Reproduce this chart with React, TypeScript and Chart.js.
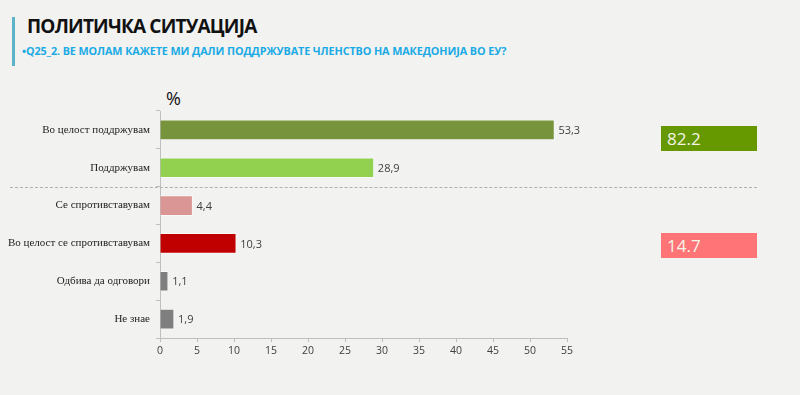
import React, { useEffect, useRef } from "react";
import { Chart, registerables } from "chart.js";

Chart.register(...registerables);

const title = "ПОЛИТИЧКА СИТУАЦИЈА";
const subtitle = "•Q25_2. ВЕ МОЛАМ КАЖЕТЕ МИ ДАЛИ ПОДДРЖУВАТЕ ЧЛЕНСТВО НА МАКЕДОНИЈА ВО ЕУ?";
const categories = [
  "Во целост поддржувам",
  "Поддржувам",
  "Се спротивставувам",
  "Во целост се спротивставувам",
  "Одбива да одговори",
  "Не знае",
];
const values = [53.3, 28.9, 4.4, 10.3, 1.1, 1.9];
const barColors = ["#77933c", "#92d050", "#d99694", "#c00000", "#7f7f7f", "#7f7f7f"];
const xMax = 55;
const xStep = 5;
const supportTotal = "82.2";
const opposeTotal = "14.7";

const valueLabels = {
  id: "valueLabels",
  afterDatasetsDraw(chart: any) {
    const ctx = chart.ctx;
    const meta = chart.getDatasetMeta(0);
    ctx.save();
    ctx.font = "11px 'Open Sans', sans-serif";
    ctx.fillStyle = "#404040";
    ctx.textAlign = "left";
    ctx.textBaseline = "middle";
    meta.data.forEach((el: any, i: number) => {
      const txt = values[i].toFixed(1).replace(".", ",");
      ctx.fillText(txt, el.x + 4, el.y + 1);
    });
    ctx.restore();
  },
};

export default function App() {
  const ref = useRef<HTMLCanvasElement>(null);
  useEffect(() => {
    document.body.style.margin = "0";
    document.body.style.background = "#f2f2f1";
    const chart = new Chart(ref.current!, {
      type: "bar",
      data: {
        labels: categories,
        datasets: [
          {
            data: values,
            backgroundColor: barColors,
            borderColor: "rgba(255,255,255,0.5)",
            borderWidth: 1,
            barThickness: 20,
          },
        ],
      },
      options: {
        indexAxis: "y",
        animation: false,
        responsive: false,
        maintainAspectRatio: false,
        layout: { padding: { left: 0, top: 111, right: 233, bottom: 0 } },
        plugins: { legend: { display: false }, tooltip: { enabled: false } },
        scales: {
          x: {
            min: 0,
            max: xMax,
            afterFit: (s: any) => {
              s.height = 57;
            },
            ticks: {
              stepSize: xStep,
              color: "#404040",
              font: { family: "'Open Sans', sans-serif", size: 10.5 },
              padding: 3,
            },
            grid: {
              drawOnChartArea: false,
              drawTicks: true,
              tickLength: 4,
              color: "#bfbfbf",
            },
            border: { color: "#bfbfbf" },
          },
          y: {
            afterFit: (s: any) => {
              s.width = 160;
            },
            ticks: {
              color: "#222222",
              font: { family: "'Liberation Serif', 'DejaVu Serif', serif", size: 11 },
              padding: 6,
            },
            grid: {
              drawOnChartArea: false,
              drawTicks: true,
              tickLength: 4,
              color: "#bfbfbf",
              offset: true,
            },
            border: { color: "#bfbfbf" },
          },
        },
      },
      plugins: [valueLabels],
    } as any);
    return () => chart.destroy();
  }, []);

  const box = (top: number, bg: string, txt: string) => (
    <div
      style={{
        position: "absolute",
        left: 661,
        top,
        width: 96,
        height: 25,
        background: bg,
        color: "#f4f4e8",
        fontFamily: "'Open Sans', sans-serif",
        fontSize: 17,
        lineHeight: "25px",
        paddingLeft: 6,
        boxSizing: "border-box",
      }}
    >
      {txt}
    </div>
  );

  return (
    <div style={{ position: "relative", width: 800, height: 395, background: "#f2f2f1", overflow: "hidden" }}>
      <div style={{ position: "absolute", left: 12, top: 17, width: 3, height: 49, background: "#5bb4c7" }} />
      <div
        style={{
          position: "absolute",
          left: 27,
          top: 13,
          fontFamily: "'Open Sans', sans-serif",
          fontWeight: 700,
          fontSize: 19,
          letterSpacing: -0.8,
          color: "#111",
          whiteSpace: "nowrap",
        }}
      >
        {title}
      </div>
      <div
        style={{
          position: "absolute",
          left: 22,
          top: 43,
          fontFamily: "'Open Sans', sans-serif",
          fontWeight: 700,
          fontSize: 10.8,
          letterSpacing: -0.1,
          color: "#1aaae4",
          whiteSpace: "nowrap",
        }}
      >
        {subtitle}
      </div>
      <div
        style={{
          position: "absolute",
          left: 166,
          top: 86,
          fontFamily: "'Open Sans', sans-serif",
          fontSize: 18,
          color: "#111",
        }}
      >
        %
      </div>
      <canvas ref={ref} width={800} height={395} style={{ position: "absolute", left: 0, top: 0 }} />
      <div
        style={{
          position: "absolute",
          left: 10,
          top: 187,
          width: 747,
          height: 0,
          borderTop: "1px dashed #b0b0b0",
        }}
      />
      {box(126, "#669900", supportTotal)}
      {box(233, "#ff7477", opposeTotal)}
    </div>
  );
}
